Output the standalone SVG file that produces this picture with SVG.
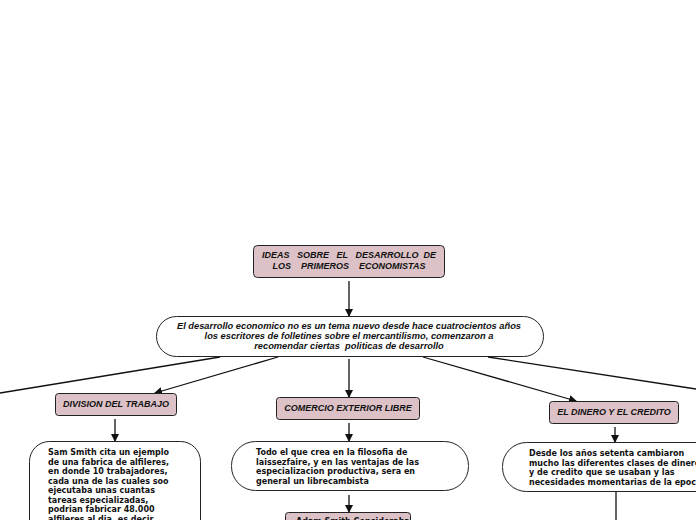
<svg xmlns="http://www.w3.org/2000/svg" width="696" height="520" viewBox="0 0 696 520">
<style>
.pk{fill:#dcc2c7;stroke:#222;stroke-width:1}
.ov{fill:#fff;stroke:#222;stroke-width:1}
.ti{font-family:"Liberation Sans",Arial,sans-serif;font-weight:bold;font-style:italic;font-size:9px;fill:#111;text-anchor:middle}
.bd{font-family:"DejaVu Sans",Verdana,sans-serif;font-weight:bold;font-size:8px;fill:#111}
.cn{stroke:#111;stroke-width:1.3;fill:none}
</style>
<defs>
<marker id="ah" markerWidth="8" markerHeight="8" refX="7" refY="4" orient="auto" markerUnits="userSpaceOnUse">
<path d="M0,0 L8,4 L0,8 z" fill="#111"/>
</marker>
</defs>
<g id="connectors">
<line class="cn" x1="349" y1="281" x2="349" y2="316" marker-end="url(#ah)"/>
<line class="cn" x1="220" y1="357" x2="0" y2="393"/>
<line class="cn" x1="278" y1="357" x2="155" y2="393" marker-end="url(#ah)"/>
<line class="cn" x1="349" y1="359" x2="349" y2="397" marker-end="url(#ah)"/>
<line class="cn" x1="423" y1="357" x2="576" y2="401" marker-end="url(#ah)"/>
<line class="cn" x1="488" y1="357" x2="696" y2="389"/>
<line class="cn" x1="115" y1="419" x2="115" y2="441" marker-end="url(#ah)"/>
<line class="cn" x1="349" y1="423" x2="349" y2="441" marker-end="url(#ah)"/>
<line class="cn" x1="349" y1="495" x2="349" y2="512" marker-end="url(#ah)"/>
<line class="cn" x1="615" y1="427" x2="615" y2="442" marker-end="url(#ah)"/>
<line class="cn" x1="616" y1="491" x2="616" y2="520"/>
</g>
<g id="root">
<rect class="pk" x="253.5" y="245.5" width="191" height="32" rx="4"/>
<text class="ti" x="349" y="258" xml:space="preserve">IDEAS   SOBRE   EL   DESARROLLO  DE</text>
<text class="ti" x="349" y="269" xml:space="preserve">LOS    PRIMEROS    ECONOMISTAS</text>
</g>
<g id="intro">
<rect class="ov" x="156.5" y="316.5" width="387" height="40" rx="20"/>
<text class="ti" x="349" y="329" style="font-size:9.3px">El desarrollo economico no es un tema nuevo desde hace cuatrocientos años</text>
<text class="ti" x="349" y="339" style="font-size:9.3px">los escritores de folletines sobre el mercantilismo, comenzaron a</text>
<text class="ti" x="349" y="349" style="font-size:9.3px" xml:space="preserve">recomendar ciertas  politicas de desarrollo</text>
</g>
<g id="division">
<rect class="pk" x="55.5" y="393.5" width="121" height="22" rx="3"/>
<text class="ti" x="116" y="407">DIVISION DEL TRABAJO</text>
</g>
<g id="comercio">
<rect class="pk" x="276.5" y="397.5" width="143" height="22" rx="3"/>
<text class="ti" x="348" y="411">COMERCIO EXTERIOR LIBRE</text>
</g>
<g id="dinero">
<rect class="pk" x="549.5" y="401.5" width="129" height="22" rx="3"/>
<text class="ti" x="614" y="415">EL DINERO Y EL CREDITO</text>
</g>
<g id="smith">
<rect class="ov" x="29.5" y="441.5" width="171" height="110" rx="20"/>
<text class="bd" x="48" y="455">Sam Smith cita un ejemplo</text>
<text class="bd" x="48" y="464.5">de una fabrica de alfileres,</text>
<text class="bd" x="48" y="474">en donde 10 trabajadores,</text>
<text class="bd" x="48" y="483.5">cada una de las cuales soo</text>
<text class="bd" x="48" y="493">ejecutaba unas cuantas</text>
<text class="bd" x="48" y="502.5">tareas especializadas,</text>
<text class="bd" x="48" y="512">podrian fabricar 48.000</text>
<text class="bd" x="48" y="521.5">alfileres al dia, es decir</text>
</g>
<g id="laissez">
<rect class="ov" x="231.5" y="441.5" width="237" height="49" rx="24"/>
<text class="bd" x="256" y="455">Todo el que crea en la filosofia de</text>
<text class="bd" x="256" y="464.5">laissezfaire, y en las ventajas de las</text>
<text class="bd" x="256" y="474">especializacion productiva, sera en</text>
<text class="bd" x="256" y="483.5">general un librecambista</text>
</g>
<g id="adam">
<rect class="pk" x="285.5" y="512.5" width="125" height="22" rx="3"/>
<text class="bd" x="296" y="524">Adam Smith Consideraba</text>
</g>
<g id="desde">
<rect class="ov" x="502.5" y="442.5" width="230" height="49" rx="24"/>
<text class="bd" x="529" y="456">Desde los años setenta cambiaron</text>
<text class="bd" x="529" y="465.5">mucho las diferentes clases de dinero</text>
<text class="bd" x="529" y="475">y de credito que se usaban y las</text>
<text class="bd" x="529" y="484.5">necesidades momentarias de la epoca</text>
</g>
</svg>
